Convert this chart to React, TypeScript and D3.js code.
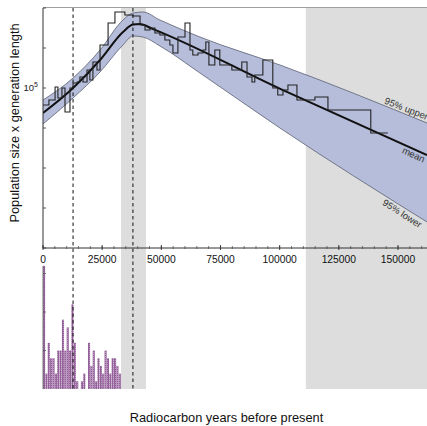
import React from "react";
import * as d3 from "d3";

const W = 427;
const H = 426;

// Skyline step function (start time of each interval, years BP) and value
const stepTimes = [0, 2500, 5100, 6300, 8000, 9300, 11400, 12700, 14400, 15600, 16900, 18600, 19800, 21100, 22800, 24100, 27500, 30400, 34600, 38000, 41000, 43100, 45200, 47300, 49400, 51500, 53600, 54900, 57000, 60000, 62100, 63300, 65500, 67600, 68800, 70100, 72600, 74700, 79800, 84000, 86200, 88300, 89500, 92900, 97100, 99200, 101400, 103500, 107300, 114900, 120400, 138500];
const stepValues = [74500, 81200, 101700, 84100, 100000, 66000, 100000, 109100, 111000, 121000, 111000, 136600, 114900, 156900, 136600, 210700, 308400, 373200, 354500, 348200, 297900, 273200, 282800, 259400, 250600, 229700, 210700, 183400, 242000, 308400, 193100, 177100, 183400, 193100, 221900, 149000, 193100, 149000, 136600, 156900, 121000, 111000, 125300, 162500, 100000, 88600, 96600, 105300, 81200, 85500, 68300, 45850];
const stepEnd = 145700;

// Mean curve
const meanTimes = [0, 12700, 24100, 33800, 38000, 41000, 46000, 100000, 162250];
const meanValues = [64800, 100000, 162500, 264000, 300000, 303000, 280000, 99000, 31300];

// 95% band
const bandTimes = [0, 12700, 24100, 33800, 38000, 42200, 49400, 66300, 100100, 162250];
const upperValues = [81200, 118900, 193100, 324900, 366800, 373200, 324900, 242000, 149000, 54500];
const lowerValues = [53600, 84100, 132000, 210700, 246200, 242000, 207100, 129700, 50000, 9810];

// Histogram of dates (1000-year bins starting at 0)
const histBinWidth = 1000;
const histCounts = [16, 2, 6, 4, 4, 2, 5, 5, 9, 5, 8, 5, 11, 6, 1, 0, 1, 2, 0, 6, 3, 5, 1, 4, 3, 2, 5, 4, 2, 4, 4, 3, 2];

// Shaded regions and reference lines
const shadedRegions = [[32950, 43500], [111050, 162250]];
const dashedTimes = [12700, 38000];

// Ticks
const xTicks = [0, 25000, 50000, 75000, 100000, 125000, 150000];
const xMinorStep = 5000;
const yTicks = [6250, 12500, 25000, 50000, 100000, 200000, 400000];
const yLabelTick = 100000;
const histTicks = [5, 10, 15];

export default function App() {
  const x = d3.scaleLinear().domain([0, 162250]).range([43, 427]);
  const y = d3.scaleLog().domain([6250, 400000]).range([248, 8]);
  const yh = d3.scaleLinear().domain([0, 15]).range([389, 273.5]);

  const top = 8;
  const axisY = 248;
  const histBase = 389;
  const left = 43;
  const font = "'Liberation Sans', Arial, Helvetica, sans-serif";

  const curve = d3.curveMonotoneX;
  const lineGen = (ts: number[], vs: number[]) =>
    d3.line<number>().x((_, i) => x(ts[i])).y((v) => y(v)).curve(curve)(vs) || "";

  const areaPath =
    d3
      .area<number>()
      .x((_, i) => x(bandTimes[i]))
      .y0((_, i) => y(lowerValues[i]))
      .y1((v) => y(v))
      .curve(curve)(upperValues) || "";

  const stepPts: [number, number][] = stepTimes.map((t, i) => [t, stepValues[i]]);
  stepPts.push([stepEnd, stepValues[stepValues.length - 1]]);
  const stepPath =
    d3
      .line<[number, number]>()
      .x((d) => x(d[0]))
      .y((d) => y(d[1]))
      .curve(d3.curveStepAfter)(stepPts) || "";

  const interpY = (ts: number[], vs: number[], t: number) => {
    for (let i = 0; i < ts.length - 1; i++) {
      if (t >= ts[i] && t <= ts[i + 1]) {
        const f = (t - ts[i]) / (ts[i + 1] - ts[i]);
        return y(vs[i]) + (y(vs[i + 1]) - y(vs[i])) * f;
      }
    }
    return y(vs[vs.length - 1]);
  };
  const lastAngle = (ts: number[], vs: number[]) => {
    const n = ts.length;
    return (
      (Math.atan2(y(vs[n - 1]) - y(vs[n - 2]), x(ts[n - 1]) - x(ts[n - 2])) * 180) / Math.PI
    );
  };

  const labels = [
    { text: "95% upper", t: 143600, ts: bandTimes, vs: upperValues, dy: -2.5 },
    { text: "mean", t: 152900, ts: meanTimes, vs: meanValues, dy: 8.5 },
    { text: "95% lower", t: 145300, ts: bandTimes, vs: lowerValues, dy: 9.5 },
  ];

  const minorTicks = d3.range(0, 162250, xMinorStep);

  return (
    <div style={{ position: "absolute", left: 0, top: 0 }}>
      <svg width={W} height={H} style={{ display: "block", background: "#fff" }}>
        <defs>
          <clipPath id="mainClip">
            <rect x={left} y={top} width={W - left} height={axisY - top} />
          </clipPath>
          <pattern id="barPat" width="2" height="2" patternUnits="userSpaceOnUse">
            <rect width="2" height="2" fill="#94619b" />
            <rect x="1" y="0" width="1" height="1" fill="#b992bd" />
          </pattern>
        </defs>

        {shadedRegions.map(([a, b], i) => (
          <rect key={i} x={x(a)} y={top} width={x(b) - x(a)} height={histBase - top} fill="#dcdddc" />
        ))}

        {histCounts.map((c, i) =>
          c > 0 ? (
            <rect
              key={i}
              x={x(i * histBinWidth)}
              y={yh(c)}
              width={x(histBinWidth) - x(0) - 0.25}
              height={histBase - yh(c)}
              fill="url(#barPat)"
            />
          ) : null
        )}

        <g clipPath="url(#mainClip)">
          <path d={areaPath} fill="#b5bdda" />
          <path d={lineGen(bandTimes, upperValues)} fill="none" stroke="#5b6072" strokeWidth={0.8} />
          <path d={lineGen(bandTimes, lowerValues)} fill="none" stroke="#5b6072" strokeWidth={0.8} />
        </g>

        {dashedTimes.map((t, i) => (
          <line key={i} x1={x(t)} x2={x(t)} y1={top} y2={histBase} stroke="#111" strokeWidth={1} strokeDasharray="3.5,3" />
        ))}

        <g clipPath="url(#mainClip)">
          <path d={lineGen(meanTimes, meanValues)} fill="none" stroke="#111" strokeWidth={2} />
          <path d={stepPath} fill="none" stroke="#222" strokeWidth={1.1} />
        </g>

        {/* top frame line */}
        <line x1={left} x2={W} y1={top - 0.5} y2={top - 0.5} stroke="#a0a0a0" strokeWidth={1} />

        {/* y axis main */}
        <line x1={left} x2={left} y1={top} y2={axisY} stroke="#333" strokeWidth={1} />
        {yTicks.map((v) => (
          <line key={v} x1={left} x2={left + 3} y1={y(v)} y2={y(v)} stroke="#333" strokeWidth={0.8} />
        ))}
        <text x={left - 5} y={y(yLabelTick) + 3} textAnchor="end" fontFamily={font} fontSize={9.5} fill="#222">
          10<tspan dy={-4} fontSize={7}>5</tspan>
        </text>

        {/* x axis */}
        <line x1={left} x2={W} y1={axisY} y2={axisY} stroke="#333" strokeWidth={1} />
        {minorTicks.map((t) => (
          <line key={t} x1={x(t)} x2={x(t)} y1={axisY - 2} y2={axisY + 1} stroke="#444" strokeWidth={0.7} />
        ))}
        {xTicks.map((t) => (
          <g key={t}>
            <line x1={x(t)} x2={x(t)} y1={axisY - 3} y2={axisY + 2} stroke="#333" strokeWidth={0.9} />
            <text x={x(t)} y={263} textAnchor="middle" fontFamily={font} fontSize={10.3} fill="#111">
              {t}
            </text>
          </g>
        ))}

        {/* histogram axis */}
        <line x1={left} x2={left} y1={266} y2={histBase} stroke="#555" strokeWidth={0.8} />
        {histTicks.map((c) => (
          <line key={c} x1={left} x2={left + 3} y1={yh(c)} y2={yh(c)} stroke="#555" strokeWidth={0.8} />
        ))}

        {/* line labels */}
        {labels.map((l) => {
          const px = x(l.t);
          const py = interpY(l.ts, l.vs, l.t);
          const ang = lastAngle(l.ts, l.vs);
          return (
            <text
              key={l.text}
              transform={`translate(${px},${py}) rotate(${ang})`}
              y={l.dy}
              fontFamily={font}
              fontSize={9.5}
              fill="#333"
            >
              {l.text}
            </text>
          );
        })}

        {/* axis titles */}
        <text x={226.5} y={422} textAnchor="middle" fontFamily={font} fontSize={12.8} fill="#111">
          Radiocarbon years before present
        </text>
        <text
          transform={`translate(19,123) rotate(-90)`}
          textAnchor="middle"
          fontFamily={font}
          fontSize={12.8}
          fill="#111"
        >
          Population size x generation length
        </text>
      </svg>
    </div>
  );
}
